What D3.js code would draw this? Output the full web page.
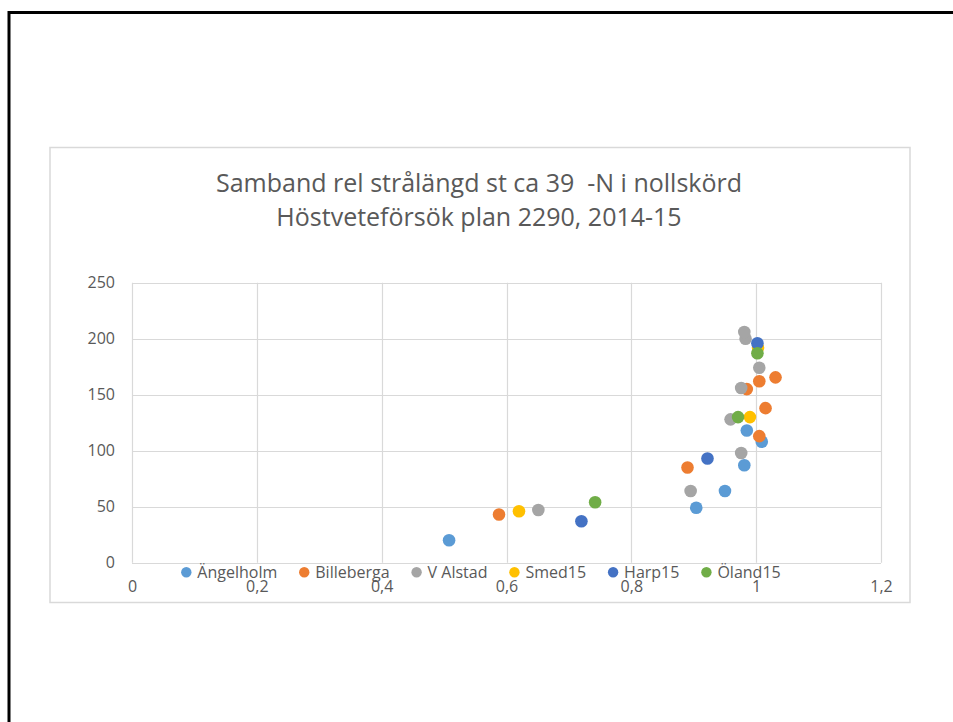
<!DOCTYPE html>
<html>
<head>
<meta charset="utf-8">
<script src="https://cdn.jsdelivr.net/npm/d3@7"></script>
<style>
  html, body { margin: 0; padding: 0; background: #fff; }
  svg { display: block; }
  text { font-family: "Open Sans", sans-serif; fill: #595959; white-space: pre; }
</style>
</head>
<body>
<svg id="chart" width="953" height="722"></svg>
<script>
// ---- data ----
const titleLines = ["Samband rel strålängd st ca 39  -N i nollskörd", "Höstveteförsök plan 2290, 2014-15"];
const seriesNames = ["Ängelholm", "Billeberga", "V Alstad", "Smed15", "Harp15", "Öland15"];
const seriesColors = ["#5B9BD5", "#ED7D31", "#A5A5A5", "#FFC000", "#4472C4", "#70AD47"];
const angelholmX = [0.508, 0.904, 0.950, 0.981, 1.009, 0.985];
const angelholmY = [20, 49, 64, 87, 108, 118];
const billebergaX = [0.588, 0.890, 1.005, 1.015, 0.985, 1.005, 1.031];
const billebergaY = [43, 85, 113, 138, 155, 162, 165.5];
const vAlstadX = [0.651, 0.895, 0.976, 0.959, 0.976, 1.005, 0.983, 0.981];
const vAlstadY = [47, 64, 98, 128, 156, 174, 200, 206];
const smedX = [0.620, 0.990, 1.003];
const smedY = [46, 130, 192];
const harpX = [0.720, 0.922, 1.002];
const harpY = [37, 93, 196];
const olandX = [0.742, 0.971, 1.002];
const olandY = [54, 130, 187];
const xTicks = [0, 0.2, 0.4, 0.6, 0.8, 1, 1.2];
const yTicks = [0, 50, 100, 150, 200, 250];

const seriesX = [angelholmX, billebergaX, vAlstadX, smedX, harpX, olandX];
const seriesY = [angelholmY, billebergaY, vAlstadY, smedY, harpY, olandY];

// ---- layout ----
const svg = d3.select("#chart");
const x = d3.scaleLinear().domain([0, 1.2]).range([132, 881]);
const y = d3.scaleLinear().domain([0, 250]).range([562.7, 282.7]);
const fmt = d => String(d).replace(".", ",");

// outer black frame (left and top edges visible)
svg.append("path")
  .attr("d", "M9,722 L9,12.5 L953,12.5")
  .attr("fill", "none").attr("stroke", "#000").attr("stroke-width", 3);

// chart area box
svg.append("rect")
  .attr("x", 50).attr("y", 147.5).attr("width", 860).attr("height", 455)
  .attr("fill", "#fff").attr("stroke", "#d9d9d9").attr("stroke-width", 1.5);

// title
svg.append("g").selectAll("text").data(titleLines).join("text")
  .attr("x", 479).attr("y", (d, i) => 192 + i * 34)
  .attr("text-anchor", "middle")
  .style("font-size", "25px")
  .text(d => d);

// gridlines
svg.append("g").selectAll("line").data(yTicks).join("line")
  .attr("x1", x(0)).attr("x2", x(1.2))
  .attr("y1", d => Math.round(y(d)) + 0.5).attr("y2", d => Math.round(y(d)) + 0.5)
  .attr("stroke", "#d9d9d9").attr("stroke-width", 1.2);
svg.append("g").selectAll("line").data(xTicks).join("line")
  .attr("y1", y(0)).attr("y2", y(250))
  .attr("x1", d => Math.round(x(d)) + 0.5).attr("x2", d => Math.round(x(d)) + 0.5)
  .attr("stroke", "#d9d9d9").attr("stroke-width", 1.2);

// axes labels via d3 axes
const yAxis = svg.append("g").attr("transform", `translate(${x(0)},0)`)
  .call(d3.axisLeft(y).tickValues(yTicks).tickSize(0).tickPadding(17).tickFormat(fmt));
yAxis.select(".domain").remove();
yAxis.selectAll("text").style("font-size", "16px").attr("fill", "#595959");

const xAxis = svg.append("g").attr("transform", `translate(0,${y(0)})`)
  .call(d3.axisBottom(x).tickValues(xTicks).tickSize(0).tickPadding(18).tickFormat(fmt));
xAxis.select(".domain").remove();
xAxis.selectAll("text").style("font-size", "16px").attr("fill", "#595959");

// points
seriesNames.forEach((name, si) => {
  const pts = seriesX[si].map((vx, i) => ({ x: vx, y: seriesY[si][i] }));
  svg.append("g").selectAll("circle").data(pts).join("circle")
    .attr("cx", d => x(d.x)).attr("cy", d => y(d.y)).attr("r", 6.3)
    .attr("fill", seriesColors[si]);
});

// legend
const legend = svg.append("g");
const items = legend.selectAll("g").data(seriesNames).join("g");
items.append("circle").attr("r", 5.2).attr("cx", 0).attr("cy", 572.3)
  .attr("fill", (d, i) => seriesColors[i]);
items.append("text").attr("x", 11).attr("y", 578)
  .style("font-size", "16px").text(d => d);
let cursor = 0;
const positions = [];
const gap = 27;
items.each(function () {
  const w = d3.select(this).select("text").node().getComputedTextLength();
  positions.push(cursor);
  cursor += 11 + w + gap;
});
const total = cursor - gap + 5;
const start = 481 - total / 2 + 5;
items.attr("transform", (d, i) => `translate(${start + positions[i]},0)`);
</script>
</body>
</html>
